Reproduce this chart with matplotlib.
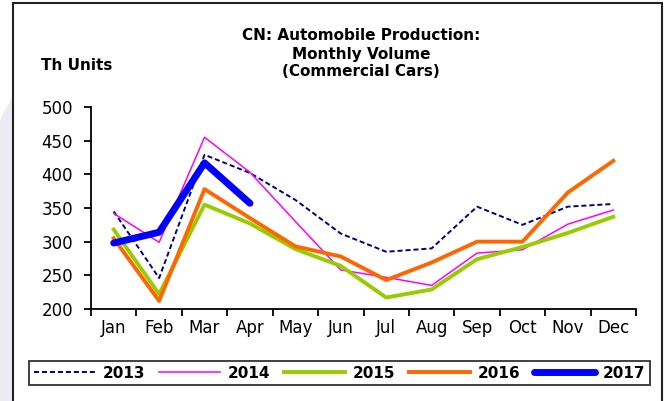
import matplotlib
matplotlib.use("Agg")
import matplotlib.pyplot as plt
from matplotlib.patches import Rectangle, Polygon

plt.rcParams["font.family"] = ["DejaVu Sans"]

months = ["Jan", "Feb", "Mar", "Apr", "May", "Jun", "Jul", "Aug", "Sep", "Oct", "Nov", "Dec"]
y2013 = [345, 246, 429, 402, 362, 312, 285, 290, 352, 325, 352, 356]
y2014 = [342, 299, 455, 403, 330, 258, 247, 235, 283, 288, 326, 347]
y2015 = [318, 222, 355, 327, 289, 264, 217, 229, 274, 292, 313, 337]
y2016 = [305, 212, 378, 335, 293, 278, 243, 269, 300, 300, 373, 420]
y2017 = [298, 314, 417, 357]
yticks = [200, 250, 300, 350, 400, 450, 500]

fig = plt.figure(figsize=(6.67, 4.01), dpi=100)
W, H = 667.0, 401.0

# faint watermark at the left edge and outer frame
fig.patches.append(Polygon([(0, 0), (13 / W, 0), (13 / W, 1 - 95 / H), (0, 1 - 120 / H)],
                           closed=True, transform=fig.transFigure,
                           facecolor="#ecebf3", edgecolor="none"))
fig.patches.append(Rectangle((13 / W, -0.01), (662 - 13) / W, 1 - 3 / H + 0.01,
                             transform=fig.transFigure, fill=False,
                             edgecolor="#222222", linewidth=1.5))

ax = fig.add_axes([91 / W, 1 - 309 / H, (636 - 91) / W, (309 - 107) / H])
x = list(range(len(months)))
l1, = ax.plot(x, y2013, color="#000080", linewidth=1.4, linestyle=(0, (2.6, 1.5)))
l2, = ax.plot(x, y2014, color="#ff00ff", linewidth=1.1)
l3, = ax.plot(x, y2015, color="#99cc00", linewidth=2.8)
l4, = ax.plot(x, y2016, color="#ff6600", linewidth=2.8)
l5, = ax.plot(x[:len(y2017)], y2017, color="#0000ff", linewidth=5, solid_capstyle="round")

ax.set_xlim(-0.5, 11.5)
ax.set_ylim(200, 500)
ax.set_yticks(yticks)
ax.set_yticklabels([str(v) for v in yticks], fontsize=12)
ax.set_xticks([i + 0.5 for i in range(-1, 12)], minor=False)
ax.set_xticklabels([])
ax.set_xticks(x, minor=True)
ax.set_xticklabels(months, minor=True, fontsize=12)
ax.tick_params(axis="x", which="minor", length=0, pad=7)
ax.tick_params(axis="x", which="major", length=5, width=1.3, direction="out")
ax.tick_params(axis="y", length=5, width=1.3, direction="out", pad=8)
for s in ["top", "right"]:
    ax.spines[s].set_visible(False)
for s in ["left", "bottom"]:
    ax.spines[s].set_linewidth(1.3)

fig.text(361 / W, 1 - 54 / H, "CN: Automobile Production:\nMonthly Volume\n(Commercial Cars)",
         ha="center", va="center", fontsize=11, fontweight="bold", linespacing=1.25)
fig.text(41 / W, 1 - 66 / H, "Th Units", ha="left", va="center", fontsize=11, fontweight="bold")

leg = fig.legend([l1, l2, l3, l4, l5], ["2013", "2014", "2015", "2016", "2017"],
                 loc="center", bbox_to_anchor=(339.5 / W, 1 - 373 / H), ncol=5,
                 frameon=True, fancybox=False, edgecolor="black", handlelength=4.0,
                 columnspacing=0.9, handletextpad=0.5, borderpad=0.3,
                 prop={"weight": "bold", "size": 11})
leg.get_frame().set_linewidth(1.3)

fig.savefig("out.png", dpi=100)
